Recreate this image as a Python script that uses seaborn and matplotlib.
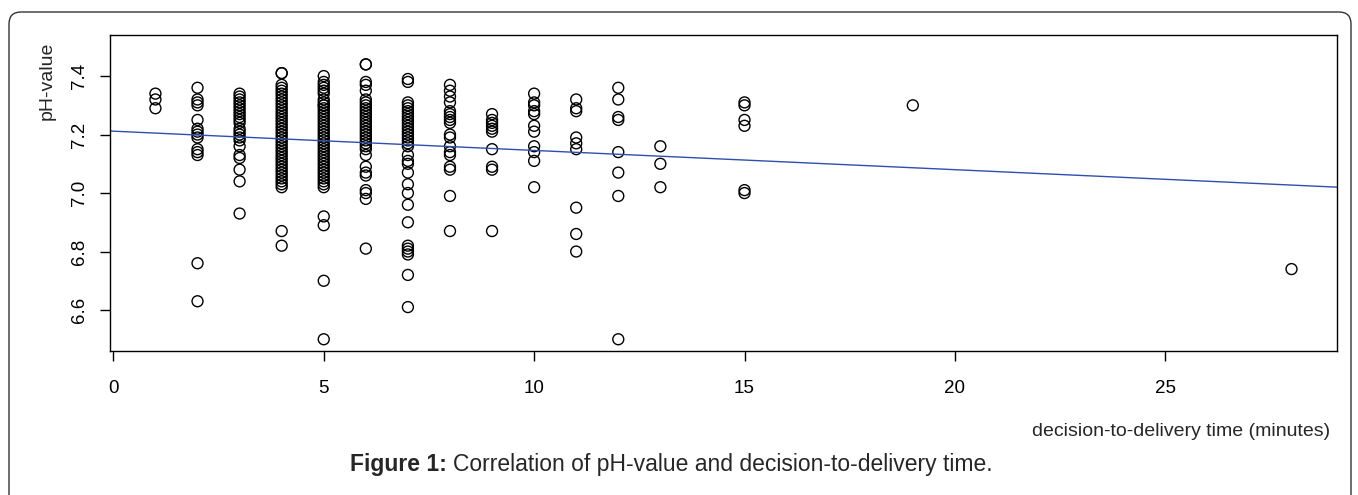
import numpy as np
import pandas as pd
import matplotlib.pyplot as plt
import seaborn as sns
from matplotlib.patches import FancyBboxPatch
from matplotlib.transforms import IdentityTransform

# decision-to-delivery time (minutes) and the pH values read at each time
minutes = [1, 2, 3, 4, 5, 6, 7, 8, 9, 10, 11, 12, 13, 15, 19, 28]

ph_01 = [7.34, 7.32, 7.29]
ph_02 = [7.36, 7.32, 7.31, 7.30, 7.25, 7.22, 7.21, 7.20, 7.19, 7.15, 7.14, 7.13, 6.76, 6.63]
ph_03 = [7.34, 7.33, 7.32, 7.31, 7.30, 7.29, 7.28, 7.27, 7.26, 7.25, 7.24, 7.22, 7.21,
         7.20, 7.19, 7.18, 7.16, 7.13, 7.12, 7.08, 7.04, 6.93]
ph_04 = [7.41, 7.41, 7.37, 7.36, 7.35, 7.34, 7.33, 7.32, 7.31, 7.30, 7.29, 7.28, 7.27,
         7.26, 7.25, 7.24, 7.23, 7.22, 7.21, 7.20, 7.19, 7.18, 7.17, 7.16, 7.15, 7.14,
         7.13, 7.12, 7.11, 7.10, 7.09, 7.08, 7.07, 7.06, 7.05, 7.04, 7.03, 7.02, 6.87, 6.82]
ph_05 = [7.40, 7.38, 7.37, 7.36, 7.35, 7.34, 7.32, 7.31, 7.30, 7.30, 7.29, 7.28, 7.27,
         7.26, 7.25, 7.24, 7.23, 7.22, 7.21, 7.20, 7.19, 7.18, 7.17, 7.16, 7.15, 7.14,
         7.13, 7.12, 7.11, 7.10, 7.09, 7.08, 7.07, 7.06, 7.05, 7.04, 7.03, 7.02, 6.92,
         6.89, 6.70, 6.50]
ph_06 = [7.44, 7.44, 7.38, 7.37, 7.35, 7.32, 7.31, 7.30, 7.29, 7.28, 7.27, 7.26, 7.25,
         7.24, 7.23, 7.22, 7.21, 7.20, 7.19, 7.18, 7.17, 7.16, 7.15, 7.13, 7.09, 7.07,
         7.06, 7.01, 7.00, 6.98, 6.81]
ph_07 = [7.39, 7.38, 7.31, 7.30, 7.29, 7.28, 7.27, 7.26, 7.25, 7.24, 7.23, 7.22, 7.21,
         7.20, 7.19, 7.18, 7.17, 7.16, 7.13, 7.11, 7.10, 7.07, 7.03, 7.00, 6.96, 6.90,
         6.82, 6.81, 6.80, 6.79, 6.72, 6.61]
ph_08 = [7.37, 7.35, 7.33, 7.31, 7.28, 7.27, 7.26, 7.25, 7.24, 7.20, 7.19, 7.16, 7.14,
         7.13, 7.09, 7.08, 6.99, 6.87]
ph_09 = [7.27, 7.25, 7.24, 7.23, 7.22, 7.21, 7.15, 7.09, 7.08, 6.87]
ph_10 = [7.34, 7.31, 7.30, 7.28, 7.27, 7.23, 7.21, 7.16, 7.14, 7.11, 7.02]
ph_11 = [7.32, 7.29, 7.28, 7.19, 7.17, 7.15, 6.95, 6.86, 6.80]
ph_12 = [7.36, 7.32, 7.26, 7.25, 7.14, 7.07, 6.99, 6.50]
ph_13 = [7.16, 7.10, 7.02]
ph_15 = [7.31, 7.30, 7.25, 7.23, 7.01, 7.00]
ph_19 = [7.30]
ph_28 = [6.74]

groups = [ph_01, ph_02, ph_03, ph_04, ph_05, ph_06, ph_07, ph_08,
          ph_09, ph_10, ph_11, ph_12, ph_13, ph_15, ph_19, ph_28]

x_ticks = [0, 5, 10, 15, 20, 25]
y_ticks = [6.6, 6.8, 7.0, 7.2, 7.4]

df = pd.DataFrame({
    "time": [m for m, g in zip(minutes, groups) for _ in g],
    "ph": [v for g in groups for v in g],
})

sns.set_style("ticks")
plt.rcParams["font.family"] = ["Liberation Sans", "DejaVu Sans"]

W, H = 1358, 495
fig = plt.figure(figsize=(W / 100, H / 100), dpi=100)
ax = fig.add_axes([0.081, 0.291, 0.9035, 0.638])

# R style limits: 4% padding around data range / ylim
x_pad = (max(minutes) - min(minutes)) * 0.04
ax.set_xlim(min(minutes) - x_pad, max(minutes) + x_pad)
ax.set_ylim(6.5 - 0.04, 7.5 + 0.04)

sns.scatterplot(data=df, x="time", y="ph", ax=ax, marker="o", s=62,
                facecolors="none", edgecolor="black", linewidth=1.0)
sns.regplot(data=df, x="time", y="ph", ax=ax, scatter=False, ci=None,
            truncate=False, line_kws={"color": "#2f4fae", "linewidth": 1.0})

ax.set_xticks(x_ticks)
ax.set_yticks(y_ticks)
ax.set_yticklabels([f"{v:.1f}" for v in y_ticks], rotation=90, va="center")
ax.tick_params(axis="both", direction="out", length=7, width=1, colors="black",
               labelsize=13.5, pad=9)
ax.tick_params(axis="x", pad=14)
for sp in ax.spines.values():
    sp.set_visible(True)
    sp.set_color("black")
    sp.set_linewidth(1.0)
ax.set_xlabel("")
ax.set_ylabel("")

fig.text(47 / W, 1 - 42 / H, "pH-value", rotation=90, ha="center", va="top",
         fontsize=14)
fig.text(1330 / W, 1 - 431 / H, "decision-to-delivery time (minutes)",
         ha="right", va="center", fontsize=14)

# caption: bold label followed by normal text, centred as a whole
cap_y = 1 - 465 / H
t1 = fig.text(0, cap_y, "Figure 1:", ha="left", va="center",
              fontsize=16.5, fontweight="bold")
t2 = fig.text(0, cap_y, "Correlation of pH-value and decision-to-delivery time.",
              ha="left", va="center", fontsize=16.5)
fig.canvas.draw()
w1 = t1.get_window_extent().width
w2 = t2.get_window_extent().width
gap = 6
x0 = 671 - (w1 + gap + w2) / 2
t1.set_x(x0 / W)
t2.set_x((x0 + w1 + gap) / W)

# rounded frame around the figure panel
frame = FancyBboxPatch((9, -30), 1342, 513, boxstyle="round,pad=0,rounding_size=12",
                       transform=IdentityTransform(), facecolor="none",
                       edgecolor="#333333", linewidth=1.0)
fig.patches.append(frame)

fig.savefig("out.png", dpi=100)
